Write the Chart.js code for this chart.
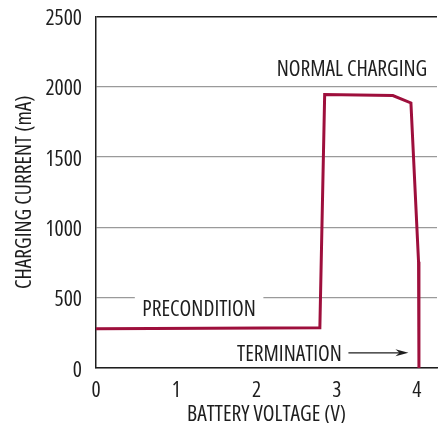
<!DOCTYPE html>
<html>
<head>
<meta charset="utf-8">
<script src="https://cdn.jsdelivr.net/npm/chart.js@4/dist/chart.umd.min.js"></script>
<style>
html,body{margin:0;padding:0;background:#fff;}
</style>
</head>
<body>
<canvas id="c" width="438" height="423"></canvas>
<script>
const voltage = [0, 2.79, 2.85, 3.70, 3.925, 4.02, 4.025];
const current = [280, 287, 1945, 1938, 1885, 755, 0];
const xTicks = [0, 1, 2, 3, 4];
const yTicks = [0, 500, 1000, 1500, 2000, 2500];
const xTitle = 'BATTERY VOLTAGE (V)';
const yTitle = 'CHARGING CURRENT (mA)';
const notes = [
  {text: 'NORMAL CHARGING', x: 3.19, y: 2134, align: 'center'},
  {text: 'PRECONDITION', x: 1.285, y: 427, align: 'center', gap: true},
  {text: 'TERMINATION', x: 3.065, y: 108, align: 'right', arrowTo: 3.894}
];

const FAMILY = "'Open Sans', 'DejaVu Sans Condensed', sans-serif";
const STRETCH = 'condensed';
const FS = 21.5;
const INK = '#1e1e1e';
const fontOpt = {family: FAMILY, weight: STRETCH, size: FS, lineHeight: 1};

const notePlugin = {
  id: 'notes',
  afterDatasetsDraw(chart) {
    const ctx = chart.ctx, xs = chart.scales.x, ys = chart.scales.y;
    ctx.save();
    ctx.font = STRETCH + ' ' + FS + 'px ' + FAMILY;
    ctx.textBaseline = 'alphabetic';
    ctx.textAlign = 'left';
    const capHalf = ctx.measureText('E').actualBoundingBoxAscent / 2;
    notes.forEach(n => {
      const px = xs.getPixelForValue(n.x), py = ys.getPixelForValue(n.y);
      const w = ctx.measureText(n.text).width;
      const left = n.align === 'center' ? px - w / 2 : (n.align === 'right' ? px - w : px);
      if (n.gap) {
        ctx.fillStyle = '#fff';
        ctx.fillRect(left - 7.5, py - 14, w + 15, 24);
      }
      ctx.fillStyle = INK;
      ctx.fillText(n.text, left, py + capHalf);
      if (n.arrowTo !== undefined) {
        const ax0 = left + w + 6.5, ax1 = xs.getPixelForValue(n.arrowTo);
        ctx.strokeStyle = INK;
        ctx.lineWidth = 1.2;
        ctx.beginPath(); ctx.moveTo(ax0, py); ctx.lineTo(ax1 - 8, py); ctx.stroke();
        ctx.beginPath();
        ctx.moveTo(ax1, py);
        ctx.lineTo(ax1 - 13, py - 3.5);
        ctx.lineTo(ax1 - 9, py);
        ctx.lineTo(ax1 - 13, py + 3.5);
        ctx.closePath();
        ctx.fill();
      }
    });
    ctx.restore();
  }
};

new Chart(document.getElementById('c'), {
  type: 'line',
  data: {
    datasets: [{
      data: voltage.map((v, i) => ({x: v, y: current[i]})),
      borderColor: '#9e0f3c',
      borderWidth: 3,
      pointRadius: 0,
      tension: 0,
      fill: false
    }]
  },
  options: {
    responsive: false,
    animation: false,
    layout: {padding: {left: 0, right: 1, top: 16.5, bottom: 0}},
    plugins: {legend: {display: false}, tooltip: {enabled: false}},
    scales: {
      x: {
        type: 'linear', min: 0, max: 4.25,
        afterBuildTicks: s => { s.ticks = xTicks.map(v => ({value: v})); },
        afterFit: s => { s.height = 55; s.paddingLeft = 0; s.paddingRight = 0; },
        grid: {display: false, drawTicks: false},
        border: {display: true, color: INK, width: 1.5},
        ticks: {color: INK, font: fontOpt, padding: 12, maxRotation: 0, callback: v => String(v)},
        title: {display: true, text: xTitle, color: INK, font: fontOpt, padding: {top: 0, bottom: -3}}
      },
      y: {
        type: 'linear', min: 0, max: 2500,
        afterBuildTicks: s => { s.ticks = yTicks.map(v => ({value: v})); },
        afterFit: s => { s.width = 96; s.paddingTop = 0; s.paddingBottom = 0; },
        grid: {
          drawTicks: false,
          color: c => c.tick && c.tick.value === 2500 ? INK : '#9a9a9a',
          lineWidth: c => c.tick && c.tick.value === 2500 ? 1.5 : 1.3
        },
        border: {display: true, color: INK, width: 1.5},
        ticks: {color: INK, font: fontOpt, padding: 14, labelOffset: 2.5, callback: v => String(v)},
        title: {display: true, text: yTitle, color: INK, font: fontOpt, padding: {top: 14, bottom: 0}}
      }
    }
  },
  plugins: [notePlugin]
});
</script>
</body>
</html>
